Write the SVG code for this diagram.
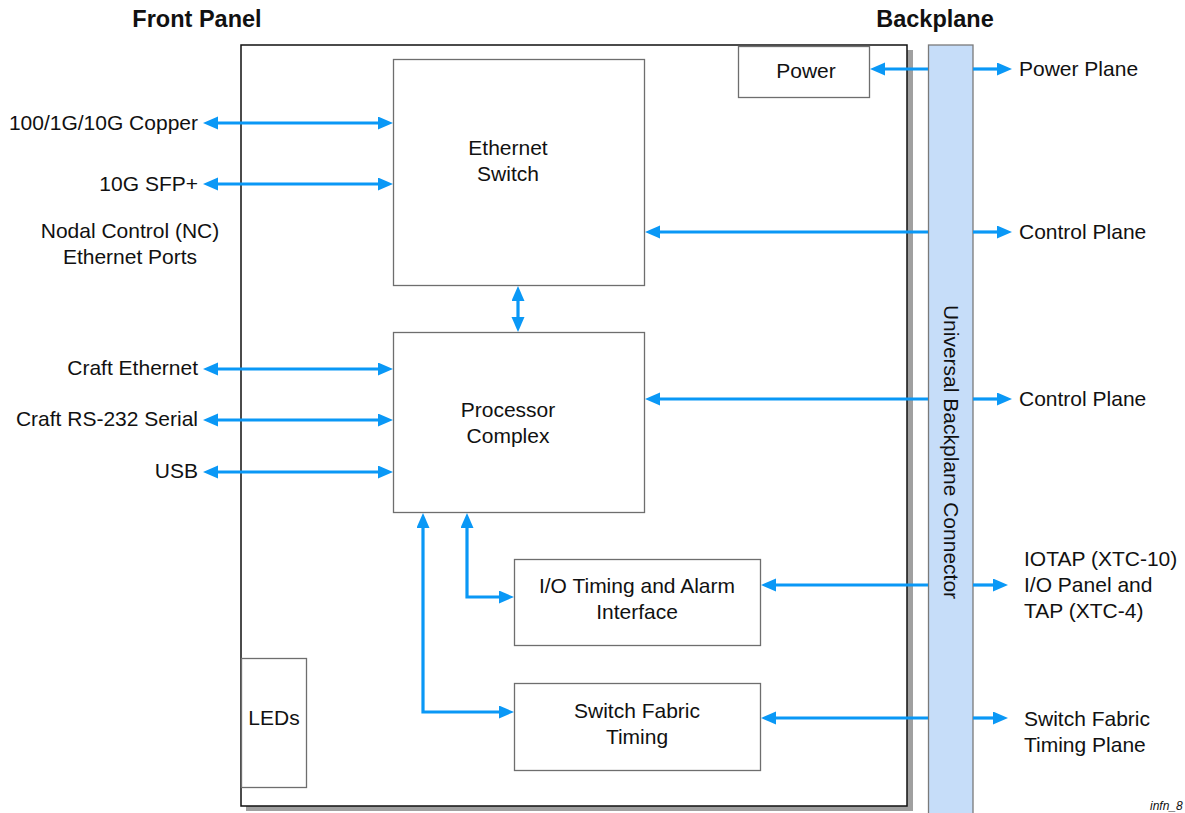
<svg xmlns="http://www.w3.org/2000/svg" width="1185" height="813" viewBox="0 0 1185 813">
<defs>
<marker id="ah" markerUnits="userSpaceOnUse" markerWidth="16" markerHeight="14" refX="7" refY="6.5" orient="auto-start-reverse">
<path d="M0,0 L15,6.5 L0,13 z" fill="#0a98f6"/>
</marker>
</defs>
<style>
text{font-family:"Liberation Sans",Arial,sans-serif;font-size:21px;fill:#111}
.b{font-weight:bold;font-size:23.5px}
.box{fill:#fff;stroke:#6e6e6e;stroke-width:1.3}
.c{fill:none;stroke:#0a98f6;stroke-width:3.2;marker-end:url(#ah)}
.d{marker-start:url(#ah)}
.m{text-anchor:middle}
.e{text-anchor:end}
</style>
<rect width="1185" height="813" fill="#fff"/>
<g id="titles">
<text class="b m" x="197" y="27">Front Panel</text>
<text class="b m" x="935" y="27">Backplane</text>
</g>
<g id="board">
<rect x="246" y="50" width="667" height="761" fill="#a0a0a0"/>
<rect x="241" y="45" width="666" height="761" fill="#fff" stroke="#111" stroke-width="1.5"/>
</g>
<g id="backplane">
<rect x="928.5" y="45" width="44.5" height="770" fill="#c6ddf9" stroke="#7a7a7a" stroke-width="1.3"/>
<text class="m" transform="translate(944 452) rotate(90)">Universal Backplane Connector</text>
</g>
<g id="power"><rect class="box" x="738.5" y="46.5" width="131" height="51"/><text class="m" x="806" y="78">Power</text></g>
<g id="eth"><rect class="box" x="393.5" y="59.5" width="251" height="226"/><text class="m" x="508" y="155">Ethernet</text><text class="m" x="508" y="181">Switch</text></g>
<g id="proc"><rect class="box" x="393.5" y="332.5" width="251" height="180"/><text class="m" x="508" y="417">Processor</text><text class="m" x="508" y="443">Complex</text></g>
<g id="iot"><rect class="box" x="514.5" y="559.5" width="246" height="86"/><text class="m" x="637" y="593">I/O Timing and Alarm</text><text class="m" x="637" y="619">Interface</text></g>
<g id="sft"><rect class="box" x="514.5" y="683.5" width="246" height="87"/><text class="m" x="637" y="718">Switch Fabric</text><text class="m" x="637" y="744">Timing</text></g>
<g id="leds"><rect class="box" x="241.5" y="658.5" width="65" height="129"/><text class="m" x="274" y="725">LEDs</text></g>
<g id="labels">
<text class="e" x="198" y="130">100/1G/10G Copper</text>
<text class="e" x="198" y="191">10G SFP+</text>
<text class="m" x="130" y="238">Nodal Control (NC)</text>
<text class="m" x="130" y="264">Ethernet Ports</text>
<text class="e" x="198" y="375">Craft Ethernet</text>
<text class="e" x="198" y="426">Craft RS-232 Serial</text>
<text class="e" x="198" y="478">USB</text>
<text x="1019" y="76">Power Plane</text>
<text x="1019" y="239">Control Plane</text>
<text x="1019" y="406">Control Plane</text>
<text x="1024" y="566">IOTAP (XTC-10)</text>
<text x="1024" y="592">I/O Panel and</text>
<text x="1024" y="618">TAP (XTC-4)</text>
<text x="1024" y="726">Switch Fabric</text>
<text x="1024" y="752">Timing Plane</text>
<text x="1150" y="810" style="font-size:12px;font-style:italic">infn_8</text>
</g>
<g id="connectors">
<path class="c d" d="M211,123 H385"/>
<path class="c d" d="M211,184 H385"/>
<path class="c d" d="M211,369 H385"/>
<path class="c d" d="M211,420 H385"/>
<path class="c d" d="M211,472 H385"/>
<path class="c d" d="M518,294 V324"/>
<path class="c" d="M928,69 H878"/>
<path class="c" d="M973,69 H1004"/>
<path class="c" d="M928,232 H653"/>
<path class="c" d="M973,232 H1004"/>
<path class="c" d="M928,399 H653"/>
<path class="c" d="M973,399 H1004"/>
<path class="c" d="M928,585 H769"/>
<path class="c" d="M973,585 H1000"/>
<path class="c" d="M928,718 H769"/>
<path class="c" d="M973,718 H1000"/>
<path class="c d" d="M467,521 V597 H506"/>
<path class="c d" d="M423,521 V712 H506"/>
</g>
</svg>
